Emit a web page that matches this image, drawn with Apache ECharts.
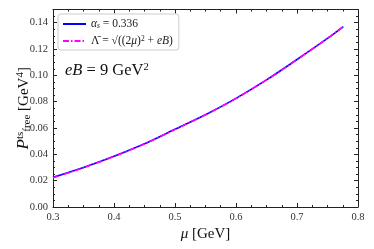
<!DOCTYPE html>
<html><head><meta charset="utf-8">
<script src="https://cdn.jsdelivr.net/npm/echarts@6/dist/echarts.min.js"></script>
<style>html,body{margin:0;padding:0;background:#fff}#c{width:374px;height:249px}</style>
</head><body><div id="c"></div>
<script>
const mu = [0.30, 0.35, 0.40, 0.45, 0.50, 0.55, 0.60, 0.65, 0.70, 0.75, 0.776];
const alphaS = [0.0225, 0.0300, 0.0385, 0.0480, 0.0590, 0.0700, 0.0825, 0.0965, 0.1120, 0.1280, 0.1370];
const lambdaBar = [0.0222, 0.0298, 0.0384, 0.0479, 0.0589, 0.0700, 0.0825, 0.0965, 0.1120, 0.1281, 0.1371];
const xTicks = [0.3, 0.4, 0.5, 0.6, 0.7, 0.8];
const yTicks = [0.00, 0.02, 0.04, 0.06, 0.08, 0.10, 0.12, 0.14];
const names = ['alpha', 'lambda'];

const font = 'Liberation Serif';
const chart = echarts.init(document.getElementById('c'), null, {renderer: 'canvas'});
const tickCommon = {
  axisLine: {show: true, onZero: false, lineStyle: {color: '#222', width: 1}},
  axisTick: {show: true, inside: true, length: 4, lineStyle: {color: '#222'}},
  minorTick: {show: true, splitNumber: 4, length: 2, lineStyle: {color: '#222'}},
  splitLine: {show: false}
};
function axis(type, pos, show, min, max, interval, fmt) {
  return Object.assign({
    type: 'value', position: pos, min: min, max: max, interval: interval,
    axisLabel: {show: show, color: '#333', fontFamily: font, fontSize: 10.5, margin: 5,
      formatter: fmt}
  }, JSON.parse(JSON.stringify(tickCommon)));
}
const xFmt = v => { const t = xTicks.find(k => Math.abs(k - v) < 1e-9); return t === undefined ? '' : t.toFixed(1); };
const yFmt = v => { const t = yTicks.find(k => Math.abs(k - v) < 1e-9); return t === undefined ? '' : t.toFixed(2); };

const xa0 = axis('x', 'bottom', true, 0.3, 0.8, 0.1, xFmt);
xa0.name = '{i|μ} [GeV]';
xa0.nameLocation = 'middle';
xa0.nameGap = 20;
xa0.nameMoveOverlap = false;
xa0.nameTextStyle = {fontFamily: font, fontSize: 15, color: '#111', rich: {i: {fontFamily: font, fontStyle: 'italic', fontSize: 15}}};
const xa1 = axis('x', 'top', false, 0.3, 0.8, 0.1, xFmt);
const ya0 = axis('y', 'left', true, 0, 0.15, 0.02, yFmt);
ya0.max = 0.15;
ya0.name = '{i|P}{sup|ts}{sub|free} [GeV{sup4|4}]';
ya0.nameLocation = 'middle';
ya0.nameGap = 20;
ya0.nameMoveOverlap = false;
ya0.nameTextStyle = {fontFamily: font, fontSize: 15, color: '#111', rich: {
  i: {fontFamily: font, fontStyle: 'italic', fontSize: 17},
  sup: {fontFamily: font, fontSize: 11, verticalAlign: 'top', padding: [0, 0, 6, 0]},
  sub: {fontFamily: font, fontSize: 11, verticalAlign: 'bottom', padding: [7, 0, 0, 0]},
  sup4: {fontFamily: font, fontSize: 11, verticalAlign: 'top', padding: [0, 0, 5, 0]}
}};
const ya1 = axis('y', 'right', false, 0, 0.15, 0.02, yFmt);
ya1.max = 0.15;

chart.setOption({
  animation: false,
  backgroundColor: '#fff',
  grid: {left: 53, right: 16, top: 9.5, bottom: 42, outerBoundsMode: 'none', containLabel: false},
  xAxis: [xa0, xa1],
  yAxis: [ya0, ya1],
  legend: {
    left: 58, top: 14, orient: 'vertical',
    itemWidth: 23, itemHeight: 8, itemGap: 5,
    padding: [4, 6, 3, 4],
    backgroundColor: '#fff', borderColor: '#ccc', borderWidth: 1, borderRadius: 3,
    data: names,
    itemStyle: {opacity: 0},
    textStyle: {fontFamily: font, fontSize: 11.5, color: '#222',
      rich: {
        i: {fontFamily: font, fontStyle: 'italic', fontSize: 11.5},
        s: {fontFamily: font, fontStyle: 'italic', fontSize: 7.5, verticalAlign: 'bottom', padding: [4, 0, 0, 0]},
        t: {fontFamily: font, fontSize: 11.5},
        sup: {fontFamily: font, fontSize: 7.5, verticalAlign: 'top', padding: [0, 0, 4, 0]}
      }},
    formatter: n => n === 'alpha'
      ? '{i|α}{s|s} = 0.336'
      : 'Λ̄ = √({t|(2}{i|μ}{t|)}{sup|2}{t| + }{i|eB}{t|)}'
  },
  graphic: [{
    type: 'text', left: 65, top: 62,
    style: {text: '{i|eB} = 9 GeV{s|2}', fontFamily: font, fontSize: 16.5, fill: '#111',
      rich: {i: {fontFamily: font, fontStyle: 'italic', fontSize: 16.5},
             s: {fontFamily: font, fontSize: 10.5, verticalAlign: 'top', padding: [0, 0, 7, 0]}}}
  }],
  series: [
    {name: 'alpha', type: 'line', xAxisIndex: 0, yAxisIndex: 0, showSymbol: false, symbol: 'none', smooth: 0.3,
     data: mu.map((m, i) => [m, alphaS[i]]), lineStyle: {color: '#0000ff', width: 1.6}, itemStyle: {color: '#0000ff'}},
    {name: 'lambda', type: 'line', xAxisIndex: 0, yAxisIndex: 0, showSymbol: false, symbol: 'none', smooth: 0.3,
     data: mu.map((m, i) => [m, lambdaBar[i]]), lineStyle: {color: '#ff00ff', width: 1.6, type: [6, 2, 1.5, 2]}, itemStyle: {color: '#ff00ff'}}
  ]
});
</script></body></html>
